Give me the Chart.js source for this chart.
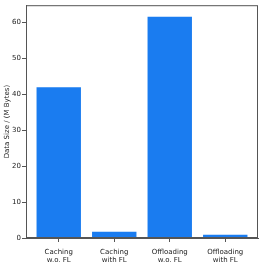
<!DOCTYPE html>
<html>
<head>
<meta charset="utf-8">
<script src="https://cdn.jsdelivr.net/npm/chart.js@4"></script>
<style>
    html, body { margin: 0; padding: 0; background: #fff; }
    #box { width: 262px; height: 265px; }
</style>
</head>
<body>
<div id="box"><canvas id="myChart"></canvas></div>
<script>
const categories = [['Caching', 'w.o. FL'], ['Caching', 'with FL'], ['Offloading', 'w.o. FL'], ['Offloading', 'with FL']];
const dataSize = [41.9, 1.75, 61.5, 0.93];
const yTicks = [0, 10, 20, 30, 40, 50, 60];

const font = { family: 'DejaVu Sans', size: 7 };

// top and right spines like matplotlib
const frame = {
    id: 'frame',
    afterDraw(chart) {
        const { ctx, chartArea: a } = chart;
        ctx.save();
        ctx.strokeStyle = '#555';
        ctx.lineWidth = 1;
        ctx.strokeRect(a.left + 0.5, a.top + 0.5, a.right - a.left - 1, a.bottom - a.top - 1);
        ctx.restore();
    }
};

new Chart(document.getElementById('myChart'), {
    type: 'bar',
    data: {
        datasets: [{
            data: dataSize.map((v, i) => ({ x: i, y: v })),
            backgroundColor: '#1a7cf0',
            borderWidth: 0,
            barPercentage: 1,
            categoryPercentage: 0.8
        }]
    },
    options: {
        responsive: true,
        maintainAspectRatio: false,
        animation: false,
        layout: { padding: { top: 2, right: 4, left: 3, bottom: 0 } },
        plugins: { legend: { display: false }, tooltip: { enabled: false } },
        scales: {
            x: {
                type: 'linear',
                min: -0.59,
                max: 3.59,
                offset: false,
                afterBuildTicks(scale) {
                    scale.ticks = categories.map((c, i) => ({ value: i }));
                },
                afterFit(scale) { scale.height = 27; },
                ticks: {
                    callback: (v) => categories[v],
                    font: font,
                    color: '#222',
                    padding: 6,
                    maxRotation: 0,
                    autoSkip: false
                },
                grid: { drawOnChartArea: false, offset: false, tickLength: 4, color: '#555' },
                border: { color: '#555' }
            },
            y: {
                min: 0,
                max: 64.7,
                afterBuildTicks(scale) {
                    scale.ticks = yTicks.map(v => ({ value: v }));
                },
                afterFit(scale) { scale.width = 23; },
                ticks: { font: font, color: '#222', padding: 1 },
                grid: { drawOnChartArea: false, tickLength: 4, color: '#555' },
                border: { color: '#555' },
                title: { display: true, text: 'Data Size / (M Bytes)', font: font, color: '#222', padding: 0 }
            }
        }
    },
    plugins: [frame]
});
</script>
</body>
</html>
